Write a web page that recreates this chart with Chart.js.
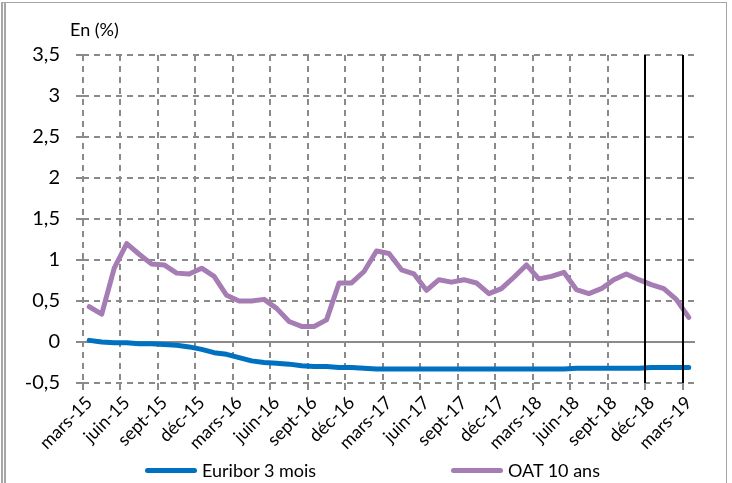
<!DOCTYPE html>
<html lang="fr">
<head>
<meta charset="utf-8">
<script src="https://cdn.jsdelivr.net/npm/chart.js@4.4.1/dist/chart.umd.min.js"></script>
<style>
  body { margin: 0; background: #fff; font-family: Lato, sans-serif; }
  .cadre { position: relative; width: 732px; height: 483px; overflow: hidden; }
  .bord { position: absolute; left: 1px; top: 2px; width: 720px; height: 500px;
          border: 1px solid #a6a6a6; border-left: 5px double #a6a6a6; }
  .legende { position: absolute; top: 459px; display: flex; align-items: center;
             font-size: 18px; color: #000; }
  .legende span.trait { display: inline-block; width: 52px; height: 5px; border-radius: 3px; margin-right: 5px; }
</style>
</head>
<body>
<div class="cadre">
  <div class="bord"></div>
  <canvas id="graphTaux" width="732" height="483"></canvas>
  <div class="legende" style="left:145px"><span class="trait" style="background:#0070c0"></span>Euribor 3 mois</div>
  <div class="legende" style="left:451px"><span class="trait" style="background:#a57cb3"></span>OAT 10 ans</div>
</div>
<script>
// mois de mars-15 à mars-19
const nomsMois = ['janv', 'févr', 'mars', 'avr', 'mai', 'juin', 'juil', 'août', 'sept', 'oct', 'nov', 'déc'];
const moisDebut = 2, anneeDebut = 15, nbMois = 49;

const euribor3m = [
  0.02, 0.00, -0.01, -0.01, -0.02, -0.02, -0.03, -0.04, -0.06, -0.09, -0.13, -0.15,
  -0.19, -0.23, -0.25, -0.26, -0.27, -0.29, -0.30, -0.30, -0.31, -0.31, -0.32, -0.33,
  -0.33, -0.33, -0.33, -0.33, -0.33, -0.33, -0.33, -0.33, -0.33, -0.33, -0.33, -0.33,
  -0.33, -0.33, -0.33, -0.32, -0.32, -0.32, -0.32, -0.32, -0.32, -0.31, -0.31, -0.31,
  -0.31
];
const oat10ans = [
  0.43, 0.34, 0.90, 1.20, 1.07, 0.95, 0.94, 0.84, 0.83, 0.90, 0.80, 0.57,
  0.50, 0.50, 0.52, 0.41, 0.25, 0.19, 0.19, 0.27, 0.72, 0.72, 0.86, 1.11,
  1.08, 0.88, 0.83, 0.63, 0.76, 0.73, 0.76, 0.72, 0.59, 0.65, 0.79, 0.94,
  0.77, 0.80, 0.85, 0.64, 0.59, 0.65, 0.76, 0.83, 0.76, 0.70, 0.65, 0.52,
  0.30
];
const marqueurs = ['déc-18', 'mars-19']; // traits verticaux noirs

const etiquettes = [];
for (let i = 0; i < nbMois; i++) {
  const m = (moisDebut + i) % 12;
  const a = anneeDebut + Math.floor((moisDebut + i) / 12);
  etiquettes.push(nomsMois[m] + '-' + a);
}

const gris = '#8a8a8a';
const tirets = [6, 5];

// ligne du zéro pleine, traits noirs et titre "En (%)"
const decorPlugin = {
  id: 'decor',
  beforeDatasetsDraw(chart) {
    const { ctx, chartArea, scales: { y } } = chart;
    const y0 = Math.round(y.getPixelForValue(0));
    ctx.save();
    ctx.strokeStyle = gris;
    ctx.lineWidth = 2;
    ctx.setLineDash([]);
    ctx.beginPath();
    ctx.moveTo(chartArea.left - 7, y0);
    ctx.lineTo(chartArea.right, y0);
    ctx.stroke();
    ctx.fillStyle = '#000';
    ctx.font = '18px Lato';
    ctx.textBaseline = 'middle';
    ctx.fillText('En (%)', chartArea.left - 13, chartArea.top - 25);
    ctx.restore();
  },
  afterDatasetsDraw(chart) {
    const { ctx, chartArea, scales: { x } } = chart;
    const demi = (x.getPixelForValue(1) - x.getPixelForValue(0)) / 2;
    ctx.save();
    ctx.strokeStyle = '#000';
    ctx.lineWidth = 2;
    ctx.setLineDash([]);
    marqueurs.forEach(lbl => {
      const px = Math.round(x.getPixelForValue(etiquettes.indexOf(lbl)) - demi);
      ctx.beginPath();
      ctx.moveTo(px, chartArea.top);
      ctx.lineTo(px, chartArea.bottom);
      ctx.stroke();
    });
    ctx.restore();
  }
};

new Chart(document.getElementById('graphTaux').getContext('2d'), {
  type: 'line',
  data: {
    labels: etiquettes,
    datasets: [
      { label: 'Euribor 3 mois', data: euribor3m, borderColor: '#0070c0', backgroundColor: '#0070c0',
        borderWidth: 5, pointRadius: 0, tension: 0, borderCapStyle: 'round', borderJoinStyle: 'round' },
      { label: 'OAT 10 ans', data: oat10ans, borderColor: '#a57cb3', backgroundColor: '#a57cb3',
        borderWidth: 5, pointRadius: 0, tension: 0, borderCapStyle: 'round', borderJoinStyle: 'round' }
    ]
  },
  plugins: [decorPlugin],
  options: {
    responsive: false,
    animation: false,
    layout: { padding: { top: 55, left: 0, right: 37, bottom: 0 } },
    plugins: {
      legend: { display: false },
      tooltip: { enabled: false }
    },
    scales: {
      x: {
        offset: true,
        afterFit: (scale) => { scale.height = 100; },
        grid: {
          offset: true,
          color: (c) => (c.index % 3 === 0 ? gris : 'rgba(0,0,0,0)'),
          lineWidth: 2,
          tickLength: 7,
          borderDash: tirets
        },
        border: { display: false, dash: tirets },
        ticks: {
          autoSkip: false,
          minRotation: 45,
          maxRotation: 45,
          padding: 2,
          color: '#000',
          font: { family: 'Lato', size: 18 },
          callback: (v, i) => (i % 3 === 0 ? etiquettes[i] : '')
        }
      },
      y: {
        min: -0.5,
        max: 3.5,
        afterFit: (scale) => { scale.width = 83; },
        grid: { color: gris, lineWidth: 2, tickLength: 7, borderDash: tirets },
        border: { display: false, dash: tirets },
        ticks: {
          stepSize: 0.5,
          padding: 16,
          color: '#000',
          font: { family: 'Lato', size: 20 },
          callback: (v) => String(v).replace('.', ',')
        }
      }
    }
  }
});
</script>
</body>
</html>
